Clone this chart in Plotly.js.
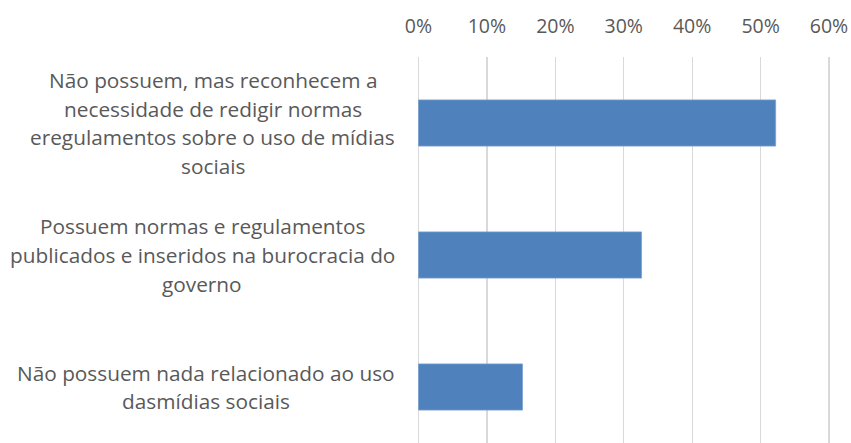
<!DOCTYPE html>
<html>
<head>
<meta charset="utf-8">
<script src="https://cdn.plot.ly/plotly-3.0.1.min.js"></script>
<style>html,body{margin:0;padding:0;background:#fff;}#chart{width:851px;height:443px;}</style>
</head>
<body>
<div id="chart"></div>
<script>
// ---- data ----
var categories = [
  "Não possuem, mas reconhecem a necessidade de redigir normas eregulamentos sobre o uso de mídias sociais",
  "Possuem normas e regulamentos publicados e inseridos na burocracia do governo",
  "Não possuem nada relacionado ao uso dasmídias sociais"
];
var labelLines = [
  ["Não possuem, mas reconhecem a", "necessidade de redigir normas", "eregulamentos sobre o uso de mídias", "sociais"],
  ["Possuem normas e regulamentos", "publicados e inseridos na burocracia do", "governo"],
  ["Não possuem nada relacionado ao uso", "dasmídias sociais"]
];
var values = [0.522, 0.326, 0.152];
var xTickVals = [0, 0.1, 0.2, 0.3, 0.4, 0.5, 0.6];

// ---- style ----
var FONT = "'Open Sans', Lato, sans-serif";
var FSIZE = 19.5;
var LSIZE = 20.8;
var TXT = "#595959";
var W = 851, H = 443;
var margin = {l: 415, r: 19, t: 57, b: 0};
var plotW = W - margin.l - margin.r;
var plotH = H - margin.t - margin.b;
var zeroPx = 418.5, maxPx = 829;
var pxPerUnit = (maxPx - zeroPx) / 0.6;
var xLo = -(zeroPx - margin.l) / pxPerUnit;
var xHi = xLo + plotW / pxPerUnit;
var catSpacingPx = 132;
var lineGap = 28.7;
var labelRight = 395;

var ctx = document.createElement("canvas").getContext("2d");
ctx.font = LSIZE + "px 'Open Sans'";

var annotations = [];
labelLines.forEach(function (lines, ci) {
  var maxW = 0;
  lines.forEach(function (t) { maxW = Math.max(maxW, ctx.measureText(t).width); });
  var centerPx = labelRight - maxW / 2;
  var n = lines.length;
  lines.forEach(function (t, li) {
    annotations.push({
      text: t,
      xref: "paper", yref: "y",
      x: (centerPx - margin.l) / plotW,
      y: categories[ci],
      xanchor: "center", yanchor: "middle",
      yshift: -(li - (n - 1) / 2) * lineGap,
      showarrow: false,
      font: {family: FONT, size: LSIZE, color: TXT}
    });
  });
});

var trace = {
  type: "bar",
  orientation: "h",
  x: values,
  y: categories,
  width: 0.35,
  marker: {color: "#4f81bd", line: {color: "#7b9fcf", width: 0.8}},
  hoverinfo: "none"
};

var span = plotH / catSpacingPx;
var layout = {
  width: W, height: H,
  margin: margin,
  paper_bgcolor: "#fff",
  plot_bgcolor: "#fff",
  showlegend: false,
  font: {family: FONT, size: FSIZE, color: TXT},
  xaxis: {
    side: "top",
    range: [xLo, xHi],
    tickvals: xTickVals,
    tickformat: ".0%",
    showgrid: true,
    gridcolor: "#d9d9d9",
    gridwidth: 1.3,
    zeroline: false,
    showline: false,
    ticks: "",
    ticklabelstandoff: 19,
    tickfont: {family: FONT, size: FSIZE, color: TXT},
    fixedrange: true
  },
  yaxis: {
    type: "category",
    categoryorder: "array",
    categoryarray: categories,
    range: [-0.5 + span, -0.5],
    showticklabels: false,
    showgrid: false,
    zeroline: false,
    showline: false,
    ticks: "",
    fixedrange: true
  },
  annotations: annotations
};

Plotly.newPlot("chart", [trace], layout, {displayModeBar: false, staticPlot: true});
</script>
</body>
</html>
